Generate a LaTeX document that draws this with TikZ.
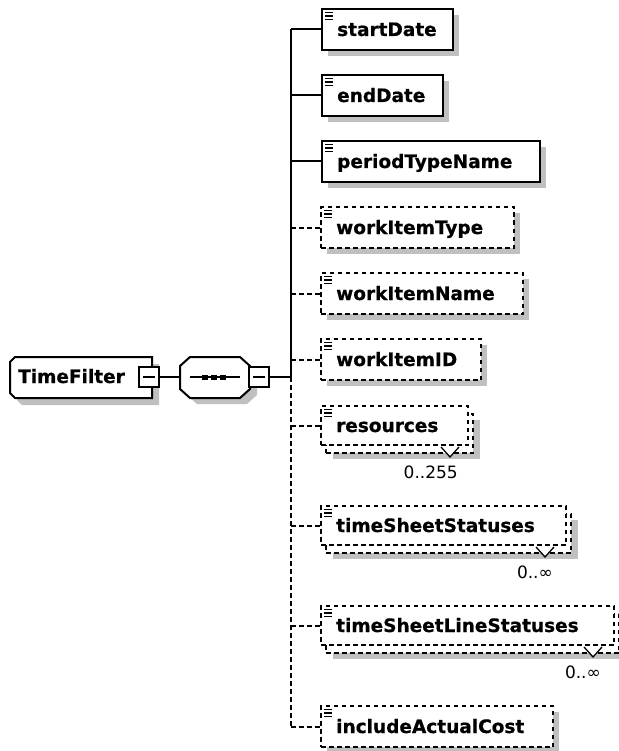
\documentclass[tikz,border=0pt]{standalone}
\usepackage{fontspec}
\setmainfont{DejaVu Sans}
\newfontfamily\heavyfont[FakeBold=0.6]{DejaVu Sans Bold}
\usetikzlibrary{calc}
\definecolor{shadowgray}{RGB}{192,192,192}
\tikzset{
 x=1pt, y=-1pt,
 lw/.style={line width=2pt},
 solidbox/.style={draw=black, lw, fill=white, rectangle, inner sep=0pt, minimum height=41pt},
 optbox/.style={solidbox, dash pattern=on 4.5pt off 3.5pt},
 multibox/.style={optbox, minimum height=39pt},
 shade/.style={fill=shadowgray, draw=none},
 eltext/.style={font=\heavyfont\fontsize{18.5}{20}\selectfont, inner sep=0pt},
 occlabel/.style={font=\fontsize{17}{19}\selectfont, inner sep=0pt},
 conn/.style={lw},
 optconn/.style={lw, dash pattern=on 4.5pt off 3.5pt},
 icon/.style={line width=1.2pt},
 minusbox/.style={draw=black, lw, fill=white, rectangle, inner sep=0pt, minimum width=20pt, minimum height=20pt},
}
% name, x, y, width, style, text
\newcommand\xelem[6]{%
  \fill[shade] (#2+7,#3+7) rectangle ++(#4,41);
  \node[#5, minimum width=#4pt, anchor=north west] (#1) at (#2,#3) {};
  \node[eltext, anchor=base west] (#1-t) at (#2+16,#3+28) {#6};
  \foreach \k in {4.5,8,11.5} \draw[icon] (#2+4,#3+\k) -- ++(8,0);
}
% name, x, y, width, text, notch x, label
\newcommand\xmelem[7]{%
  \fill[shade] (#2+13,#3+15) rectangle ++(#4,39);
  \node[multibox, minimum width=#4pt, anchor=north west] (#1-back) at (#2+5,#3+8) {};
  \node[multibox, minimum width=#4pt, anchor=north west] (#1) at (#2,#3) {};
  \filldraw[fill=white, line width=1.3pt] (#6-9,#3+8+39-5) -- (#6,#3+8+39+5) -- (#6+9,#3+8+39-5);
  \node[eltext, anchor=base west] (#1-t) at (#2+16,#3+27) {#5};
  \foreach \k in {4.5,8,11.5} \draw[icon] (#2+4,#3+\k) -- ++(8,0);
  \node[occlabel, anchor=base east] (#1-occ) at (#6+8,#3+8+39+26) {#7};
}
\begin{document}
\begin{tikzpicture}
\useasboundingbox (0,0) rectangle (618,751);
\fill[white] (0,0) rectangle (618,751);

% TimeFilter element
\fill[shade] (22,364) -- (159,364) -- (159,405) -- (22,405) -- (17,400) -- (17,369) -- cycle;
\draw[lw, fill=white] (15,357) -- (152,357) -- (152,398) -- (15,398) -- (10,393) -- (10,362) -- cycle;
\node[eltext, anchor=base west] (timefilter) at (18,383) {TimeFilter};
\node[minusbox] (tfminus) at (148.5,377) {};
\draw[lw] (tfminus.center) ++(-6,0) -- ++(12,0);

% sequence compositor
\fill[shade] (197,364) -- (247,364) -- (257,373) -- (257,395) -- (247,404) -- (197,404) -- (187,395) -- (187,373) -- cycle;
\draw[lw, fill=white] (190,357) -- (240,357) -- (250,366) -- (250,389) -- (240,398) -- (190,398) -- (180,389) -- (180,366) -- cycle;
\node[minimum width=70pt, minimum height=41pt, inner sep=0pt] (seq) at (215,377) {};
\draw[lw] (190,377) -- (240,377);
\foreach \dx in {202,210.5,220} \fill (\dx,374.5) rectangle ++(6,5.5);
\node[minusbox] (seqminus) at (259,377) {};
\draw[lw] (seqminus.center) ++(-6,0) -- ++(12,0);

\draw[conn] (tfminus.east) -- (seq.west);
\coordinate (bar) at (291,377);

% children
\xelem{startDate}{321}{8}{131}{solidbox}{startDate}
\xelem{endDate}{321}{74}{121}{solidbox}{endDate}
\xelem{periodTypeName}{321}{140}{218}{solidbox}{periodTypeName}
\xelem{workItemType}{320}{206}{193}{optbox}{workItemType}
\xelem{workItemName}{320}{272}{202}{optbox}{workItemName}
\xelem{workItemID}{320}{338}{160}{optbox}{workItemID}
\xmelem{resources}{320}{405}{147}{resources}{450}{0..255}
\xmelem{timeSheetStatuses}{320}{505}{245}{timeSheetStatuses}{545}{0..∞}
\xmelem{timeSheetLineStatuses}{320}{605}{293}{timeSheetLineStatuses}{593}{0..∞}
\xelem{includeActualCost}{320}{705}{232}{optbox}{includeActualCost}

% connectors
\draw[conn] (seqminus.east) -- (bar);
\draw[conn] (bar) -- (bar |- startDate.west);
\draw[optconn] (bar) -- (bar |- includeActualCost.west);
\foreach \n in {startDate,endDate,periodTypeName}
  \draw[conn] (bar |- \n.west) -- (\n.west);
\foreach \n in {workItemType,workItemName,workItemID,resources,timeSheetStatuses,timeSheetLineStatuses,includeActualCost}
  \draw[optconn] (bar |- \n.west) -- (\n.west);
\end{tikzpicture}
\end{document}
